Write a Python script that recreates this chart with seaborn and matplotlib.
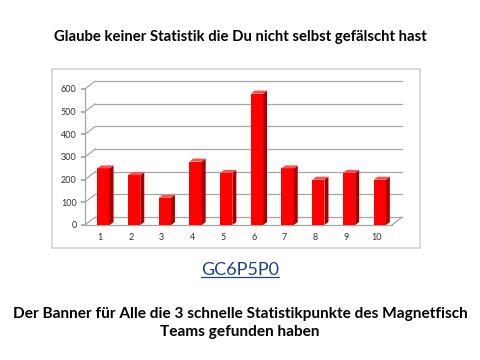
import matplotlib
matplotlib.use("Agg")
import matplotlib.pyplot as plt
import seaborn as sns
from matplotlib.patches import Polygon, Rectangle
from matplotlib.lines import Line2D

# Daten
kategorien = ["1", "2", "3", "4", "5", "6", "7", "8", "9", "10"]
werte = [250, 220, 120, 280, 230, 580, 250, 200, 230, 200]
y_ticks = [0, 100, 200, 300, 400, 500, 600]

titel = "Glaube keiner Statistik die Du nicht selbst gefälscht hast"
code = "GC6P5P0"
unterzeile = "Der Banner für Alle die 3 schnelle Statistikpunkte des Magnetfisch\nTeams gefunden haben"

sns.set_theme(style="white")
plt.rcParams["font.family"] = ["Lato", "DejaVu Sans"]

fig = plt.figure(figsize=(4.8, 3.6), dpi=100)
fig.patch.set_facecolor("white")

# Rahmen um das Diagramm
fig.add_artist(Rectangle((52 / 480, 1 - 248 / 360), 368 / 480, 179 / 360,
                         transform=fig.transFigure, fill=False,
                         edgecolor="#d4d4d4", linewidth=1.2))

ax = fig.add_axes([85 / 480, 1 - 225 / 360, 307 / 480, 136 / 360])
sns.barplot(x=kategorien, y=werte, color="#ff0000", saturation=1,
            width=0.4, ax=ax, zorder=3)

ax.set_xlim(-0.5, 9.5)
ax.set_ylim(0, 600)
ax.set_yticks(y_ticks)
ax.set_xlabel("")
ax.set_ylabel("")

# 3D-Tiefe (Wand) und Tiefe der Balken
DX, DY = 0.33, 35
BDX, BDY = 0.13, 13
SHIFT = 0.1
grid_col = "#a6a6a6"

for v in y_ticks:
    ax.add_line(Line2D([-0.5 + DX, 9.5 + DX], [v + DY, v + DY], color=grid_col,
                       lw=0.9, clip_on=False, zorder=1))
    ax.add_line(Line2D([-0.5, -0.5 + DX], [v, v + DY], color=grid_col,
                       lw=0.9, clip_on=False, zorder=1))
ax.add_line(Line2D([9.5, 9.5 + DX], [0, DY], color=grid_col, lw=0.9,
                   clip_on=False, zorder=1))

for p in ax.patches:
    p.set_x(p.get_x() + SHIFT)
    p.set_edgecolor("none")
    x0 = p.get_x()
    x1 = x0 + p.get_width()
    h = p.get_height()
    ax.add_patch(Polygon([(x1, 0), (x1 + BDX, BDY), (x1 + BDX, h + BDY), (x1, h)],
                         closed=True, facecolor="#a80000", edgecolor="none",
                         zorder=3, clip_on=False))
    ax.add_patch(Polygon([(x0, h), (x0 + BDX, h + BDY), (x1 + BDX, h + BDY), (x1, h)],
                         closed=True, facecolor="#ff5050", edgecolor="none",
                         zorder=3, clip_on=False))

for s in ["top", "right"]:
    ax.spines[s].set_visible(False)
for s in ["left", "bottom"]:
    ax.spines[s].set_color(grid_col)
    ax.spines[s].set_linewidth(0.9)

ax.set_xticks(range(len(kategorien)))
ax.set_xticks([i + 0.5 for i in range(-1, len(kategorien))], minor=True)
ax.tick_params(axis="x", which="major", length=0, labelsize=6.5,
               labelcolor="#333333", pad=6)
ax.tick_params(axis="x", which="minor", length=3, color=grid_col, direction="out")
ax.tick_params(axis="y", length=3, color=grid_col, labelsize=6.5,
               labelcolor="#333333", left=True, pad=3)

# Texte
fig.text(0.5, 1 - 37 / 360, titel, ha="center", va="center",
         fontsize=10.7, fontweight="bold", color="black")
t_code = fig.text(0.5, 1 - 270 / 360, code, ha="center", va="center",
                  fontsize=13, color="#1f3f8f")
fig.text(0.5, 1 - 323 / 360, unterzeile, ha="center", va="center",
         fontsize=11.1, fontweight="bold", color="black", linespacing=1.3)

# Unterstreichung des Codes
fig.canvas.draw()
bb = t_code.get_window_extent().transformed(fig.transFigure.inverted())
fig.add_artist(Line2D([bb.x0, bb.x1], [bb.y0 + 0.004, bb.y0 + 0.004],
                      transform=fig.transFigure, color="#1f3f8f", lw=0.9))

fig.savefig("out.png", dpi=100, facecolor="white")
